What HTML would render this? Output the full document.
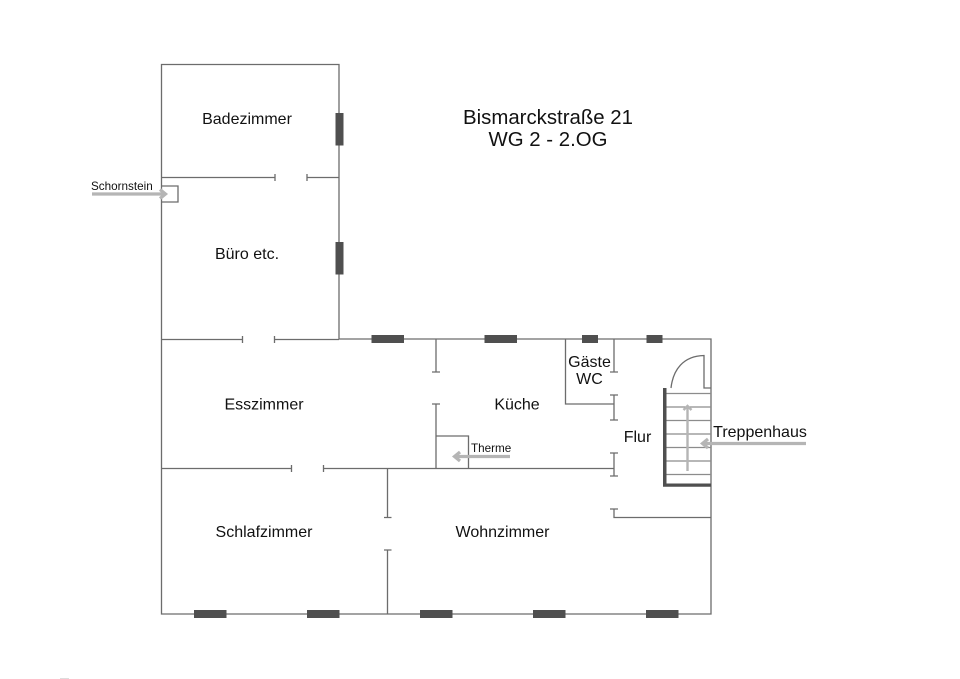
<!DOCTYPE html>
<html><head><meta charset="utf-8"><style>
html,body{margin:0;padding:0;background:#fff}
svg{display:block}
text{font-family:"Liberation Sans",sans-serif;fill:#111}
</style></head><body>
<svg width="960" height="679" viewBox="0 0 960 679" xmlns="http://www.w3.org/2000/svg">
<rect width="960" height="679" fill="#fff"/>
<g fill="none" stroke="#6c6c6c" stroke-width="1.3">
<path d="M339 339V64.500H161.500V614H711V339H339"/>
<path d="M161.500 177.500H275M275 174V181M307 174V181M307 177.500H339"/>
<path d="M161.500 186H178V202H161.500"/>
<path d="M161.500 339.500H242.500M242.500 336V343M274.500 336V343M274.500 339.500H339"/>
<path d="M436 339V372M432 372H440M432 404H440M436 404V468.500"/>
<path d="M436 436H468.500V468.500"/>
<path d="M161.500 468.500H291.500M291.500 465V472M323.500 465V472M323.500 468.500H614"/>
<path d="M387.500 468.500V517.500M384 517.500H391.500M384 550H391.500M387.500 550V614"/>
<path d="M565.500 339V404H614"/>
<path d="M614 339V372M610 372H618"/>
<path d="M610 395H618M614 395V420M610 420H618"/>
<path d="M610 453H618M614 453V476M610 476H618"/>
<path d="M610 509H618M614 509V517.500H711"/>
<path d="M671 388C673 370 683 356 704 355.500V388H711"/>
</g>
<path d="M665 393.500H711M665 407H711M665 420.500H711M665 434H711M665 447.500H711M665 461H711M665 474.500H711" fill="none" stroke="#8c8c8c" stroke-width="1.200"/>
<g fill="#4f4f4f">
<rect x="335.500" y="113" width="8" height="32.500"/>
<rect x="335.500" y="242" width="8" height="32.500"/>
<rect x="371.500" y="335" width="32.500" height="8"/>
<rect x="484.500" y="335" width="32.500" height="8"/>
<rect x="582" y="335" width="16" height="8"/>
<rect x="646.500" y="335" width="16" height="8"/>
<rect x="194" y="610" width="32.500" height="8"/>
<rect x="307" y="610" width="32.500" height="8"/>
<rect x="420" y="610" width="32.500" height="8"/>
<rect x="533" y="610" width="32.500" height="8"/>
<rect x="646" y="610" width="32.500" height="8"/>
<path d="M663 388H666.500V483.500H711V486.800H663Z"/>
</g>
<g fill="none" stroke="#b5b5b5" stroke-width="3.200">
<path d="M92 194H165M160 189.500L165.500 194L160 198.500"/>
<path d="M510 456.500H455M460 452L454.500 456.500L460 461"/>
<path d="M806 443.500H703M708 439L702.500 443.500L708 448"/>
<path d="M687.500 471V407M683.500 410L687.500 406L691.500 410" stroke-width="2.400"/>
</g>
<rect x="60" y="678" width="9" height="1" fill="#ddd"/>
<text x="247" y="124" font-size="16" text-anchor="middle">Badezimmer</text>
<text x="247" y="259" font-size="16" text-anchor="middle">Büro etc.</text>
<text x="264" y="409.500" font-size="16" text-anchor="middle">Esszimmer</text>
<text x="517" y="409.500" font-size="16" text-anchor="middle">Küche</text>
<text x="264" y="537" font-size="16" text-anchor="middle">Schlafzimmer</text>
<text x="502.500" y="537" font-size="16" text-anchor="middle">Wohnzimmer</text>
<text x="589.500" y="367" font-size="16" text-anchor="middle">Gäste</text>
<text x="589.500" y="384" font-size="16" text-anchor="middle">WC</text>
<text x="637.500" y="442" font-size="16" text-anchor="middle">Flur</text>
<text x="760" y="437" font-size="16" text-anchor="middle">Treppenhaus</text>
<text x="91" y="190" font-size="11.700">Schornstein</text>
<text x="471" y="452" font-size="11.700">Therme</text>
<text x="548" y="124" font-size="20.400" text-anchor="middle">Bismarckstraße 21</text>
<text x="548" y="146" font-size="20.400" text-anchor="middle">WG 2 - 2.OG</text>
</svg>
</body></html>
